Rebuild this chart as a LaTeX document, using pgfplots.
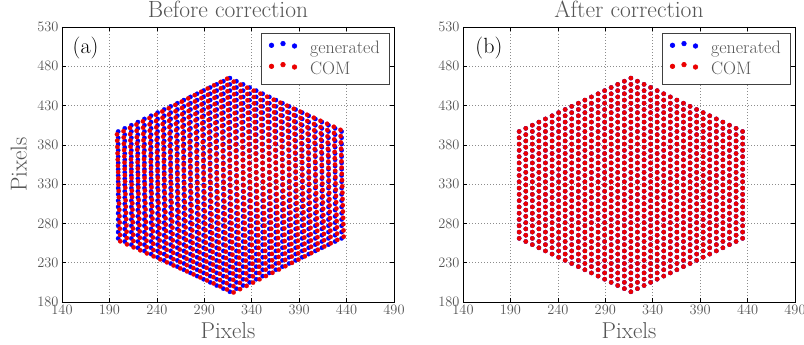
\documentclass[border=0pt]{standalone}
\usepackage{pgfplots}
\pgfplotsset{compat=1.18}
\usepackage{pgfplotstable}
\definecolor{txt}{gray}{0.33}
\definecolor{genblue}{rgb}{0,0,1}
\definecolor{comred}{rgb}{0.92,0,0}

\pgfplotstableread{
x y u v
199.2 261 201.4 257.3
199.2 269 201.2 265.3
199.2 277 201.0 273.3
199.2 285 200.8 281.3
199.2 293 200.6 289.3
199.2 301 200.4 297.3
199.2 309 200.2 305.3
199.2 317 200.0 313.3
199.2 325 199.8 321.3
199.2 333 199.6 329.3
199.2 341 199.4 337.3
199.2 349 199.2 345.3
199.2 357 199.0 353.3
199.2 365 198.8 361.3
199.2 373 198.6 369.3
199.2 381 198.4 377.3
199.2 389 198.2 385.3
199.2 397 198.0 393.3
206.2 257 208.5 253.4
206.2 265 208.3 261.4
206.2 273 208.1 269.4
206.2 281 207.9 277.4
206.2 289 207.7 285.4
206.2 297 207.5 293.4
206.2 305 207.3 301.4
206.2 313 207.1 309.4
206.2 321 206.9 317.4
206.2 329 206.7 325.4
206.2 337 206.5 333.4
206.2 345 206.3 341.4
206.2 353 206.1 349.4
206.2 361 205.9 357.4
206.2 369 205.7 365.4
206.2 377 205.5 373.4
206.2 385 205.3 381.4
206.2 393 205.1 389.4
206.2 401 204.9 397.4
213.1 253 215.5 249.6
213.1 261 215.3 257.6
213.1 269 215.1 265.6
213.1 277 214.9 273.6
213.1 285 214.7 281.6
213.1 293 214.5 289.6
213.1 301 214.3 297.6
213.1 309 214.1 305.6
213.1 317 213.9 313.6
213.1 325 213.7 321.6
213.1 333 213.5 329.6
213.1 341 213.3 337.6
213.1 349 213.1 345.6
213.1 357 212.9 353.6
213.1 365 212.7 361.6
213.1 373 212.5 369.6
213.1 381 212.3 377.6
213.1 389 212.1 385.6
213.1 397 211.9 393.6
213.1 405 211.7 401.6
220 249 222.5 245.8
220 257 222.3 253.8
220 265 222.1 261.8
220 273 221.9 269.8
220 281 221.7 277.8
220 289 221.5 285.8
220 297 221.3 293.8
220 305 221.1 301.8
220 313 220.9 309.8
220 321 220.7 317.8
220 329 220.5 325.8
220 337 220.3 333.8
220 345 220.1 341.8
220 353 219.9 349.8
220 361 219.7 357.8
220 369 219.5 365.8
220 377 219.3 373.8
220 385 219.1 381.8
220 393 218.9 389.8
220 401 218.7 397.8
220 409 218.5 405.8
226.9 245 229.5 241.9
226.9 253 229.3 249.9
226.9 261 229.1 257.9
226.9 269 228.9 265.9
226.9 277 228.7 273.9
226.9 285 228.5 281.9
226.9 293 228.3 289.9
226.9 301 228.1 297.9
226.9 309 227.9 305.9
226.9 317 227.7 313.9
226.9 325 227.5 321.9
226.9 333 227.3 329.9
226.9 341 227.1 337.9
226.9 349 226.9 345.9
226.9 357 226.7 353.9
226.9 365 226.5 361.9
226.9 373 226.3 369.9
226.9 381 226.1 377.9
226.9 389 225.9 385.9
226.9 397 225.7 393.9
226.9 405 225.5 401.9
226.9 413 225.3 409.9
233.9 241 236.6 238.1
233.9 249 236.4 246.1
233.9 257 236.2 254.1
233.9 265 236.0 262.1
233.9 273 235.8 270.1
233.9 281 235.6 278.1
233.9 289 235.4 286.1
233.9 297 235.2 294.1
233.9 305 235.0 302.1
233.9 313 234.8 310.1
233.9 321 234.6 318.1
233.9 329 234.4 326.1
233.9 337 234.2 334.1
233.9 345 234.0 342.1
233.9 353 233.8 350.1
233.9 361 233.6 358.1
233.9 369 233.4 366.1
233.9 377 233.2 374.1
233.9 385 233.0 382.1
233.9 393 232.8 390.1
233.9 401 232.6 398.1
233.9 409 232.4 406.1
233.9 417 232.2 414.1
240.8 237 243.6 234.3
240.8 245 243.4 242.3
240.8 253 243.2 250.3
240.8 261 243.0 258.3
240.8 269 242.8 266.3
240.8 277 242.6 274.3
240.8 285 242.4 282.3
240.8 293 242.2 290.3
240.8 301 242.0 298.3
240.8 309 241.8 306.3
240.8 317 241.6 314.3
240.8 325 241.4 322.3
240.8 333 241.2 330.3
240.8 341 241.0 338.3
240.8 349 240.8 346.3
240.8 357 240.6 354.3
240.8 365 240.4 362.3
240.8 373 240.2 370.3
240.8 381 240.0 378.3
240.8 389 239.8 386.3
240.8 397 239.6 394.3
240.8 405 239.4 402.3
240.8 413 239.2 410.3
240.8 421 239.0 418.3
247.7 233 250.6 230.5
247.7 241 250.4 238.5
247.7 249 250.2 246.5
247.7 257 250.0 254.5
247.7 265 249.8 262.5
247.7 273 249.6 270.5
247.7 281 249.4 278.5
247.7 289 249.2 286.5
247.7 297 249.0 294.5
247.7 305 248.8 302.5
247.7 313 248.6 310.5
247.7 321 248.4 318.5
247.7 329 248.2 326.5
247.7 337 248.0 334.5
247.7 345 247.8 342.5
247.7 353 247.6 350.5
247.7 361 247.4 358.5
247.7 369 247.2 366.5
247.7 377 247.0 374.5
247.7 385 246.8 382.5
247.7 393 246.6 390.5
247.7 401 246.4 398.5
247.7 409 246.2 406.5
247.7 417 246.0 414.5
247.7 425 245.8 422.5
254.6 229 257.6 226.6
254.6 237 257.4 234.6
254.6 245 257.2 242.6
254.6 253 257.0 250.6
254.6 261 256.8 258.6
254.6 269 256.6 266.6
254.6 277 256.4 274.6
254.6 285 256.2 282.6
254.6 293 256.0 290.6
254.6 301 255.8 298.6
254.6 309 255.6 306.6
254.6 317 255.4 314.6
254.6 325 255.2 322.6
254.6 333 255.0 330.6
254.6 341 254.8 338.6
254.6 349 254.6 346.6
254.6 357 254.4 354.6
254.6 365 254.2 362.6
254.6 373 254.0 370.6
254.6 381 253.8 378.6
254.6 389 253.6 386.6
254.6 397 253.4 394.6
254.6 405 253.2 402.6
254.6 413 253.0 410.6
254.6 421 252.8 418.6
254.6 429 252.6 426.6
261.6 225 264.7 222.8
261.6 233 264.5 230.8
261.6 241 264.3 238.8
261.6 249 264.1 246.8
261.6 257 263.9 254.8
261.6 265 263.7 262.8
261.6 273 263.5 270.8
261.6 281 263.3 278.8
261.6 289 263.1 286.8
261.6 297 262.9 294.8
261.6 305 262.7 302.8
261.6 313 262.5 310.8
261.6 321 262.3 318.8
261.6 329 262.1 326.8
261.6 337 261.9 334.8
261.6 345 261.7 342.8
261.6 353 261.5 350.8
261.6 361 261.3 358.8
261.6 369 261.1 366.8
261.6 377 260.9 374.8
261.6 385 260.7 382.8
261.6 393 260.5 390.8
261.6 401 260.3 398.8
261.6 409 260.1 406.8
261.6 417 259.9 414.8
261.6 425 259.7 422.8
261.6 433 259.5 430.8
268.5 221 271.7 219
268.5 229 271.5 227
268.5 237 271.3 235
268.5 245 271.1 243
268.5 253 270.9 251
268.5 261 270.7 259
268.5 269 270.5 267
268.5 277 270.3 275
268.5 285 270.1 283
268.5 293 269.9 291
268.5 301 269.7 299
268.5 309 269.5 307
268.5 317 269.3 315
268.5 325 269.1 323
268.5 333 268.9 331
268.5 341 268.7 339
268.5 349 268.5 347
268.5 357 268.3 355
268.5 365 268.1 363
268.5 373 267.9 371
268.5 381 267.7 379
268.5 389 267.5 387
268.5 397 267.3 395
268.5 405 267.1 403
268.5 413 266.9 411
268.5 421 266.7 419
268.5 429 266.5 427
268.5 437 266.3 435
275.4 217 278.7 215.2
275.4 225 278.5 223.2
275.4 233 278.3 231.2
275.4 241 278.1 239.2
275.4 249 277.9 247.2
275.4 257 277.7 255.2
275.4 265 277.5 263.2
275.4 273 277.3 271.2
275.4 281 277.1 279.2
275.4 289 276.9 287.2
275.4 297 276.7 295.2
275.4 305 276.5 303.2
275.4 313 276.3 311.2
275.4 321 276.1 319.2
275.4 329 275.9 327.2
275.4 337 275.7 335.2
275.4 345 275.5 343.2
275.4 353 275.3 351.2
275.4 361 275.1 359.2
275.4 369 274.9 367.2
275.4 377 274.7 375.2
275.4 385 274.5 383.2
275.4 393 274.3 391.2
275.4 401 274.1 399.2
275.4 409 273.9 407.2
275.4 417 273.7 415.2
275.4 425 273.5 423.2
275.4 433 273.3 431.2
275.4 441 273.1 439.2
282.4 213 285.8 211.3
282.4 221 285.6 219.3
282.4 229 285.4 227.3
282.4 237 285.2 235.3
282.4 245 285.0 243.3
282.4 253 284.8 251.3
282.4 261 284.6 259.3
282.4 269 284.4 267.3
282.4 277 284.2 275.3
282.4 285 284.0 283.3
282.4 293 283.8 291.3
282.4 301 283.6 299.3
282.4 309 283.4 307.3
282.4 317 283.2 315.3
282.4 325 283.0 323.3
282.4 333 282.8 331.3
282.4 341 282.6 339.3
282.4 349 282.4 347.3
282.4 357 282.2 355.3
282.4 365 282.0 363.3
282.4 373 281.8 371.3
282.4 381 281.6 379.3
282.4 389 281.4 387.3
282.4 397 281.2 395.3
282.4 405 281.0 403.3
282.4 413 280.8 411.3
282.4 421 280.6 419.3
282.4 429 280.4 427.3
282.4 437 280.2 435.3
282.4 445 280.0 443.3
289.3 209 292.8 207.5
289.3 217 292.6 215.5
289.3 225 292.4 223.5
289.3 233 292.2 231.5
289.3 241 292.0 239.5
289.3 249 291.8 247.5
289.3 257 291.6 255.5
289.3 265 291.4 263.5
289.3 273 291.2 271.5
289.3 281 291.0 279.5
289.3 289 290.8 287.5
289.3 297 290.6 295.5
289.3 305 290.4 303.5
289.3 313 290.2 311.5
289.3 321 290.0 319.5
289.3 329 289.8 327.5
289.3 337 289.6 335.5
289.3 345 289.4 343.5
289.3 353 289.2 351.5
289.3 361 289.0 359.5
289.3 369 288.8 367.5
289.3 377 288.6 375.5
289.3 385 288.4 383.5
289.3 393 288.2 391.5
289.3 401 288.0 399.5
289.3 409 287.8 407.5
289.3 417 287.6 415.5
289.3 425 287.4 423.5
289.3 433 287.2 431.5
289.3 441 287.0 439.5
289.3 449 286.8 447.5
296.2 205 299.8 203.7
296.2 213 299.6 211.7
296.2 221 299.4 219.7
296.2 229 299.2 227.7
296.2 237 299.0 235.7
296.2 245 298.8 243.7
296.2 253 298.6 251.7
296.2 261 298.4 259.7
296.2 269 298.2 267.7
296.2 277 298.0 275.7
296.2 285 297.8 283.7
296.2 293 297.6 291.7
296.2 301 297.4 299.7
296.2 309 297.2 307.7
296.2 317 297.0 315.7
296.2 325 296.8 323.7
296.2 333 296.6 331.7
296.2 341 296.4 339.7
296.2 349 296.2 347.7
296.2 357 296.0 355.7
296.2 365 295.8 363.7
296.2 373 295.6 371.7
296.2 381 295.4 379.7
296.2 389 295.2 387.7
296.2 397 295.0 395.7
296.2 405 294.8 403.7
296.2 413 294.6 411.7
296.2 421 294.4 419.7
296.2 429 294.2 427.7
296.2 437 294.0 435.7
296.2 445 293.8 443.7
296.2 453 293.6 451.7
303.1 201 306.8 199.9
303.1 209 306.6 207.9
303.1 217 306.4 215.9
303.1 225 306.2 223.9
303.1 233 306.0 231.9
303.1 241 305.8 239.9
303.1 249 305.6 247.9
303.1 257 305.4 255.9
303.1 265 305.2 263.9
303.1 273 305.0 271.9
303.1 281 304.8 279.9
303.1 289 304.6 287.9
303.1 297 304.4 295.9
303.1 305 304.2 303.9
303.1 313 304.0 311.9
303.1 321 303.8 319.9
303.1 329 303.6 327.9
303.1 337 303.4 335.9
303.1 345 303.2 343.9
303.1 353 303.0 351.9
303.1 361 302.8 359.9
303.1 369 302.6 367.9
303.1 377 302.4 375.9
303.1 385 302.2 383.9
303.1 393 302.0 391.9
303.1 401 301.8 399.9
303.1 409 301.6 407.9
303.1 417 301.4 415.9
303.1 425 301.2 423.9
303.1 433 301.0 431.9
303.1 441 300.8 439.9
303.1 449 300.6 447.9
303.1 457 300.4 455.9
310.1 197 313.9 196
310.1 205 313.7 204
310.1 213 313.5 212
310.1 221 313.3 220
310.1 229 313.1 228
310.1 237 312.9 236
310.1 245 312.7 244
310.1 253 312.5 252
310.1 261 312.3 260
310.1 269 312.1 268
310.1 277 311.9 276
310.1 285 311.7 284
310.1 293 311.5 292
310.1 301 311.3 300
310.1 309 311.1 308
310.1 317 310.9 316
310.1 325 310.7 324
310.1 333 310.5 332
310.1 341 310.3 340
310.1 349 310.1 348
310.1 357 309.9 356
310.1 365 309.7 364
310.1 373 309.5 372
310.1 381 309.3 380
310.1 389 309.1 388
310.1 397 308.9 396
310.1 405 308.7 404
310.1 413 308.5 412
310.1 421 308.3 420
310.1 429 308.1 428
310.1 437 307.9 436
310.1 445 307.7 444
310.1 453 307.5 452
310.1 461 307.3 460
317 193 320.9 192.2
317 201 320.7 200.2
317 209 320.5 208.2
317 217 320.3 216.2
317 225 320.1 224.2
317 233 319.9 232.2
317 241 319.7 240.2
317 249 319.5 248.2
317 257 319.3 256.2
317 265 319.1 264.2
317 273 318.9 272.2
317 281 318.7 280.2
317 289 318.5 288.2
317 297 318.3 296.2
317 305 318.1 304.2
317 313 317.9 312.2
317 321 317.7 320.2
317 329 317.5 328.2
317 337 317.3 336.2
317 345 317.1 344.2
317 353 316.9 352.2
317 361 316.7 360.2
317 369 316.5 368.2
317 377 316.3 376.2
317 385 316.1 384.2
317 393 315.9 392.2
317 401 315.7 400.2
317 409 315.5 408.2
317 417 315.3 416.2
317 425 315.1 424.2
317 433 314.9 432.2
317 441 314.7 440.2
317 449 314.5 448.2
317 457 314.3 456.2
317 465 314.1 464.2
323.9 197 327.7 196.4
323.9 205 327.5 204.4
323.9 213 327.3 212.4
323.9 221 327.1 220.4
323.9 229 326.9 228.4
323.9 237 326.7 236.4
323.9 245 326.5 244.4
323.9 253 326.3 252.4
323.9 261 326.1 260.4
323.9 269 325.9 268.4
323.9 277 325.7 276.4
323.9 285 325.5 284.4
323.9 293 325.3 292.4
323.9 301 325.1 300.4
323.9 309 324.9 308.4
323.9 317 324.7 316.4
323.9 325 324.5 324.4
323.9 333 324.3 332.4
323.9 341 324.1 340.4
323.9 349 323.9 348.4
323.9 357 323.7 356.4
323.9 365 323.5 364.4
323.9 373 323.3 372.4
323.9 381 323.1 380.4
323.9 389 322.9 388.4
323.9 397 322.7 396.4
323.9 405 322.5 404.4
323.9 413 322.3 412.4
323.9 421 322.1 420.4
323.9 429 321.9 428.4
323.9 437 321.7 436.4
323.9 445 321.5 444.4
323.9 453 321.3 452.4
323.9 461 321.1 460.4
330.9 201 334.6 200.5
330.9 209 334.4 208.5
330.9 217 334.2 216.5
330.9 225 334.0 224.5
330.9 233 333.8 232.5
330.9 241 333.6 240.5
330.9 249 333.4 248.5
330.9 257 333.2 256.5
330.9 265 333.0 264.5
330.9 273 332.8 272.5
330.9 281 332.6 280.5
330.9 289 332.4 288.5
330.9 297 332.2 296.5
330.9 305 332.0 304.5
330.9 313 331.8 312.5
330.9 321 331.6 320.5
330.9 329 331.4 328.5
330.9 337 331.2 336.5
330.9 345 331.0 344.5
330.9 353 330.8 352.5
330.9 361 330.6 360.5
330.9 369 330.4 368.5
330.9 377 330.2 376.5
330.9 385 330.0 384.5
330.9 393 329.8 392.5
330.9 401 329.6 400.5
330.9 409 329.4 408.5
330.9 417 329.2 416.5
330.9 425 329.0 424.5
330.9 433 328.8 432.5
330.9 441 328.6 440.5
330.9 449 328.4 448.5
330.9 457 328.2 456.5
337.8 205 341.4 204.7
337.8 213 341.2 212.7
337.8 221 341.0 220.7
337.8 229 340.8 228.7
337.8 237 340.6 236.7
337.8 245 340.4 244.7
337.8 253 340.2 252.7
337.8 261 340.0 260.7
337.8 269 339.8 268.7
337.8 277 339.6 276.7
337.8 285 339.4 284.7
337.8 293 339.2 292.7
337.8 301 339.0 300.7
337.8 309 338.8 308.7
337.8 317 338.6 316.7
337.8 325 338.4 324.7
337.8 333 338.2 332.7
337.8 341 338.0 340.7
337.8 349 337.8 348.7
337.8 357 337.6 356.7
337.8 365 337.4 364.7
337.8 373 337.2 372.7
337.8 381 337.0 380.7
337.8 389 336.8 388.7
337.8 397 336.6 396.7
337.8 405 336.4 404.7
337.8 413 336.2 412.7
337.8 421 336.0 420.7
337.8 429 335.8 428.7
337.8 437 335.6 436.7
337.8 445 335.4 444.7
337.8 453 335.2 452.7
344.7 209 348.2 208.9
344.7 217 348.0 216.9
344.7 225 347.8 224.9
344.7 233 347.6 232.9
344.7 241 347.4 240.9
344.7 249 347.2 248.9
344.7 257 347.0 256.9
344.7 265 346.8 264.9
344.7 273 346.6 272.9
344.7 281 346.4 280.9
344.7 289 346.2 288.9
344.7 297 346.0 296.9
344.7 305 345.8 304.9
344.7 313 345.6 312.9
344.7 321 345.4 320.9
344.7 329 345.2 328.9
344.7 337 345.0 336.9
344.7 345 344.8 344.9
344.7 353 344.6 352.9
344.7 361 344.4 360.9
344.7 369 344.2 368.9
344.7 377 344.0 376.9
344.7 385 343.8 384.9
344.7 393 343.6 392.9
344.7 401 343.4 400.9
344.7 409 343.2 408.9
344.7 417 343.0 416.9
344.7 425 342.8 424.9
344.7 433 342.6 432.9
344.7 441 342.4 440.9
344.7 449 342.2 448.9
351.6 213 355.0 213.1
351.6 221 354.8 221.1
351.6 229 354.6 229.1
351.6 237 354.4 237.1
351.6 245 354.2 245.1
351.6 253 354.0 253.1
351.6 261 353.8 261.1
351.6 269 353.6 269.1
351.6 277 353.4 277.1
351.6 285 353.2 285.1
351.6 293 353.0 293.1
351.6 301 352.8 301.1
351.6 309 352.6 309.1
351.6 317 352.4 317.1
351.6 325 352.2 325.1
351.6 333 352.0 333.1
351.6 341 351.8 341.1
351.6 349 351.6 349.1
351.6 357 351.4 357.1
351.6 365 351.2 365.1
351.6 373 351.0 373.1
351.6 381 350.8 381.1
351.6 389 350.6 389.1
351.6 397 350.4 397.1
351.6 405 350.2 405.1
351.6 413 350.0 413.1
351.6 421 349.8 421.1
351.6 429 349.6 429.1
351.6 437 349.4 437.1
351.6 445 349.2 445.1
358.6 217 361.9 217.2
358.6 225 361.7 225.2
358.6 233 361.5 233.2
358.6 241 361.3 241.2
358.6 249 361.1 249.2
358.6 257 360.9 257.2
358.6 265 360.7 265.2
358.6 273 360.5 273.2
358.6 281 360.3 281.2
358.6 289 360.1 289.2
358.6 297 359.9 297.2
358.6 305 359.7 305.2
358.6 313 359.5 313.2
358.6 321 359.3 321.2
358.6 329 359.1 329.2
358.6 337 358.9 337.2
358.6 345 358.7 345.2
358.6 353 358.5 353.2
358.6 361 358.3 361.2
358.6 369 358.1 369.2
358.6 377 357.9 377.2
358.6 385 357.7 385.2
358.6 393 357.5 393.2
358.6 401 357.3 401.2
358.6 409 357.1 409.2
358.6 417 356.9 417.2
358.6 425 356.7 425.2
358.6 433 356.5 433.2
358.6 441 356.3 441.2
365.5 221 368.7 221.4
365.5 229 368.5 229.4
365.5 237 368.3 237.4
365.5 245 368.1 245.4
365.5 253 367.9 253.4
365.5 261 367.7 261.4
365.5 269 367.5 269.4
365.5 277 367.3 277.4
365.5 285 367.1 285.4
365.5 293 366.9 293.4
365.5 301 366.7 301.4
365.5 309 366.5 309.4
365.5 317 366.3 317.4
365.5 325 366.1 325.4
365.5 333 365.9 333.4
365.5 341 365.7 341.4
365.5 349 365.5 349.4
365.5 357 365.3 357.4
365.5 365 365.1 365.4
365.5 373 364.9 373.4
365.5 381 364.7 381.4
365.5 389 364.5 389.4
365.5 397 364.3 397.4
365.5 405 364.1 405.4
365.5 413 363.9 413.4
365.5 421 363.7 421.4
365.5 429 363.5 429.4
365.5 437 363.3 437.4
372.4 225 375.5 225.6
372.4 233 375.3 233.6
372.4 241 375.1 241.6
372.4 249 374.9 249.6
372.4 257 374.7 257.6
372.4 265 374.5 265.6
372.4 273 374.3 273.6
372.4 281 374.1 281.6
372.4 289 373.9 289.6
372.4 297 373.7 297.6
372.4 305 373.5 305.6
372.4 313 373.3 313.6
372.4 321 373.1 321.6
372.4 329 372.9 329.6
372.4 337 372.7 337.6
372.4 345 372.5 345.6
372.4 353 372.3 353.6
372.4 361 372.1 361.6
372.4 369 371.9 369.6
372.4 377 371.7 377.6
372.4 385 371.5 385.6
372.4 393 371.3 393.6
372.4 401 371.1 401.6
372.4 409 370.9 409.6
372.4 417 370.7 417.6
372.4 425 370.5 425.6
372.4 433 370.3 433.6
379.4 229 382.4 229.8
379.4 237 382.2 237.8
379.4 245 382.0 245.8
379.4 253 381.8 253.8
379.4 261 381.6 261.8
379.4 269 381.4 269.8
379.4 277 381.2 277.8
379.4 285 381.0 285.8
379.4 293 380.8 293.8
379.4 301 380.6 301.8
379.4 309 380.4 309.8
379.4 317 380.2 317.8
379.4 325 380.0 325.8
379.4 333 379.8 333.8
379.4 341 379.6 341.8
379.4 349 379.4 349.8
379.4 357 379.2 357.8
379.4 365 379.0 365.8
379.4 373 378.8 373.8
379.4 381 378.6 381.8
379.4 389 378.4 389.8
379.4 397 378.2 397.8
379.4 405 378.0 405.8
379.4 413 377.8 413.8
379.4 421 377.6 421.8
379.4 429 377.4 429.8
386.3 233 389.2 233.9
386.3 241 389.0 241.9
386.3 249 388.8 249.9
386.3 257 388.6 257.9
386.3 265 388.4 265.9
386.3 273 388.2 273.9
386.3 281 388.0 281.9
386.3 289 387.8 289.9
386.3 297 387.6 297.9
386.3 305 387.4 305.9
386.3 313 387.2 313.9
386.3 321 387.0 321.9
386.3 329 386.8 329.9
386.3 337 386.6 337.9
386.3 345 386.4 345.9
386.3 353 386.2 353.9
386.3 361 386.0 361.9
386.3 369 385.8 369.9
386.3 377 385.6 377.9
386.3 385 385.4 385.9
386.3 393 385.2 393.9
386.3 401 385.0 401.9
386.3 409 384.8 409.9
386.3 417 384.6 417.9
386.3 425 384.4 425.9
393.2 237 396.0 238.1
393.2 245 395.8 246.1
393.2 253 395.6 254.1
393.2 261 395.4 262.1
393.2 269 395.2 270.1
393.2 277 395.0 278.1
393.2 285 394.8 286.1
393.2 293 394.6 294.1
393.2 301 394.4 302.1
393.2 309 394.2 310.1
393.2 317 394.0 318.1
393.2 325 393.8 326.1
393.2 333 393.6 334.1
393.2 341 393.4 342.1
393.2 349 393.2 350.1
393.2 357 393.0 358.1
393.2 365 392.8 366.1
393.2 373 392.6 374.1
393.2 381 392.4 382.1
393.2 389 392.2 390.1
393.2 397 392.0 398.1
393.2 405 391.8 406.1
393.2 413 391.6 414.1
393.2 421 391.4 422.1
400.1 241 402.8 242.3
400.1 249 402.6 250.3
400.1 257 402.4 258.3
400.1 265 402.2 266.3
400.1 273 402.0 274.3
400.1 281 401.8 282.3
400.1 289 401.6 290.3
400.1 297 401.4 298.3
400.1 305 401.2 306.3
400.1 313 401.0 314.3
400.1 321 400.8 322.3
400.1 329 400.6 330.3
400.1 337 400.4 338.3
400.1 345 400.2 346.3
400.1 353 400.0 354.3
400.1 361 399.8 362.3
400.1 369 399.6 370.3
400.1 377 399.4 378.3
400.1 385 399.2 386.3
400.1 393 399.0 394.3
400.1 401 398.8 402.3
400.1 409 398.6 410.3
400.1 417 398.4 418.3
407.1 245 409.7 246.5
407.1 253 409.5 254.5
407.1 261 409.3 262.5
407.1 269 409.1 270.5
407.1 277 408.9 278.5
407.1 285 408.7 286.5
407.1 293 408.5 294.5
407.1 301 408.3 302.5
407.1 309 408.1 310.5
407.1 317 407.9 318.5
407.1 325 407.7 326.5
407.1 333 407.5 334.5
407.1 341 407.3 342.5
407.1 349 407.1 350.5
407.1 357 406.9 358.5
407.1 365 406.7 366.5
407.1 373 406.5 374.5
407.1 381 406.3 382.5
407.1 389 406.1 390.5
407.1 397 405.9 398.5
407.1 405 405.7 406.5
407.1 413 405.5 414.5
414 249 416.5 250.6
414 257 416.3 258.6
414 265 416.1 266.6
414 273 415.9 274.6
414 281 415.7 282.6
414 289 415.5 290.6
414 297 415.3 298.6
414 305 415.1 306.6
414 313 414.9 314.6
414 321 414.7 322.6
414 329 414.5 330.6
414 337 414.3 338.6
414 345 414.1 346.6
414 353 413.9 354.6
414 361 413.7 362.6
414 369 413.5 370.6
414 377 413.3 378.6
414 385 413.1 386.6
414 393 412.9 394.6
414 401 412.7 402.6
414 409 412.5 410.6
420.9 253 423.3 254.8
420.9 261 423.1 262.8
420.9 269 422.9 270.8
420.9 277 422.7 278.8
420.9 285 422.5 286.8
420.9 293 422.3 294.8
420.9 301 422.1 302.8
420.9 309 421.9 310.8
420.9 317 421.7 318.8
420.9 325 421.5 326.8
420.9 333 421.3 334.8
420.9 341 421.1 342.8
420.9 349 420.9 350.8
420.9 357 420.7 358.8
420.9 365 420.5 366.8
420.9 373 420.3 374.8
420.9 381 420.1 382.8
420.9 389 419.9 390.8
420.9 397 419.7 398.8
420.9 405 419.5 406.8
427.9 257 430.2 259
427.9 265 430.0 267
427.9 273 429.8 275
427.9 281 429.6 283
427.9 289 429.4 291
427.9 297 429.2 299
427.9 305 429.0 307
427.9 313 428.8 315
427.9 321 428.6 323
427.9 329 428.4 331
427.9 337 428.2 339
427.9 345 428.0 347
427.9 353 427.8 355
427.9 361 427.6 363
427.9 369 427.4 371
427.9 377 427.2 379
427.9 385 427.0 387
427.9 393 426.8 395
427.9 401 426.6 403
434.8 261 437.0 263.1
434.8 269 436.8 271.1
434.8 277 436.6 279.1
434.8 285 436.4 287.1
434.8 293 436.2 295.1
434.8 301 436.0 303.1
434.8 309 435.8 311.1
434.8 317 435.6 319.1
434.8 325 435.4 327.1
434.8 333 435.2 335.1
434.8 341 435.0 343.1
434.8 349 434.8 351.1
434.8 357 434.6 359.1
434.8 365 434.4 367.1
434.8 373 434.2 375.1
434.8 381 434.0 383.1
434.8 389 433.8 391.1
434.8 397 433.6 399.1
}\hexdata

\pgfplotsset{
  hexaxis/.style={
    scale only axis, width=332pt, height=275pt,
    xmin=140, xmax=490, ymin=180, ymax=530,
    xtick={140,190,...,490}, ytick={180,230,...,530},
    grid=major,
    major grid style={dash pattern=on 1pt off 2pt, black!45, line width=0.7pt},
    tick align=inside, tick pos=both, major tick length=4pt,
    axis line style={black, line width=0.9pt},
    every tick/.style={black, line width=0.6pt},
    tick label style={font=\fontsize{15}{15}\selectfont, text=txt},
    title style={font=\fontsize{23.5}{23.5}\selectfont, text=txt,
      at={(axis description cs:0.5,1)}, anchor=base, yshift=3pt},
    xlabel={Pixels},
    xlabel style={font=\fontsize{23}{23}\selectfont, text=txt,
      at={(axis description cs:0.5,0)}, anchor=base, yshift=-37pt},
    legend style={at={(axis description cs:1,1)}, anchor=north east,
      xshift=-4pt, yshift=-6pt, draw=black!75, line width=0.6pt,
      font=\fontsize{18}{18}\selectfont, text=txt,
      nodes={inner sep=2pt},
      inner xsep=8pt, inner ysep=6pt, column sep=11pt, row sep=3pt},
    legend cell align=left,
  },
  genstyle/.style={only marks, mark=*, mark size=2.2pt,
    mark options={fill=genblue, draw=genblue, line width=0.2pt},
    legend image code/.code={
      \fill[genblue] (0pt,0.3em) circle (2.3pt);
      \fill[genblue] (11.5pt,0.3em+1.7pt) circle (2.3pt);
      \fill[genblue] (23pt,0.3em-0.7pt) circle (2.3pt);}},
  comstyle/.style={only marks, mark=*, mark size=2.2pt,
    mark options={fill=comred, draw=comred, line width=0.2pt},
    legend image code/.code={
      \fill[comred] (0pt,0.3em) circle (2.3pt);
      \fill[comred] (11.5pt,0.3em+1.7pt) circle (2.3pt);
      \fill[comred] (23pt,0.3em-0.7pt) circle (2.3pt);}},
}

\begin{document}
\begin{tikzpicture}
\useasboundingbox (0,0) rectangle (804pt,345pt);
\begin{axis}[hexaxis, at={(62pt,43pt)}, anchor=south west,
  title={Before correction},
  ylabel={Pixels},
  ylabel style={font=\fontsize{23}{23}\selectfont, text=txt,
    at={(axis description cs:-0.13,0.5)}, anchor=center}]
\addplot[genstyle] table[x=x, y=y] {\hexdata};
\addlegendentry{generated}
\addplot[comstyle] table[x=u, y=v] {\hexdata};
\addlegendentry{COM}
\node[font=\fontsize{22}{22}\selectfont, text=black] at (rel axis cs:0.071,0.924) {(a)};
\end{axis}
\begin{axis}[hexaxis, at={(463pt,43pt)}, anchor=south west,
  title={After correction}]
\addplot[genstyle] table[x=x, y=y] {\hexdata};
\addlegendentry{generated}
\addplot[comstyle] table[x=x, y=y] {\hexdata};
\addlegendentry{COM}
\node[font=\fontsize{22}{22}\selectfont, text=black] at (rel axis cs:0.078,0.924) {(b)};
\end{axis}
\end{tikzpicture}
\end{document}
